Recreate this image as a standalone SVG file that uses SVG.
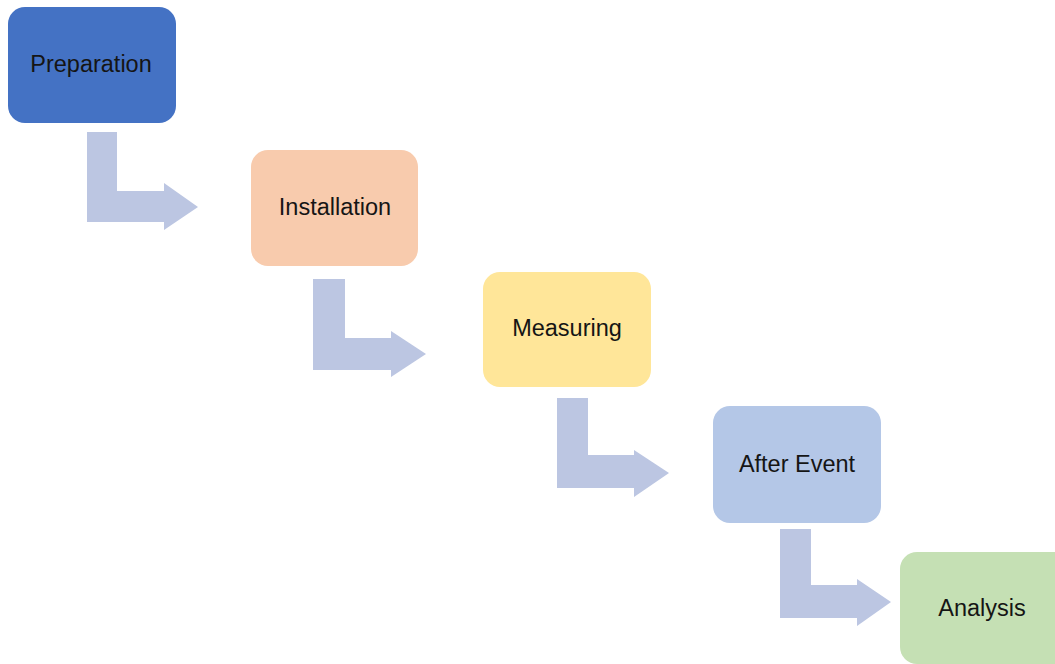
<svg xmlns="http://www.w3.org/2000/svg" width="1055" height="664" viewBox="0 0 1055 664">
<style>
.lbl{font-family:"Liberation Sans",Arial,sans-serif;font-size:23.5px;fill:#151515;text-anchor:middle}
.arr{fill:#BCC6E2}
</style>
<rect width="1055" height="664" fill="#ffffff"/>
<g id="connectors">
<path class="arr" d="M87,132 H117 V191 H164 V183 L198,207 L164,230 V222 H87 Z"/>
<path class="arr" d="M313,279 H345 V338 H391 V331 L426,354 L391,377 V370 H313 Z"/>
<path class="arr" d="M557,398 H588 V455 H634 V450 L669,473 L634,497 V488 H557 Z"/>
<path class="arr" d="M780,529 H811 V585 H857 V579 L891,602 L857,626 V618 H780 Z"/>
</g>
<g id="preparation">
<rect x="8" y="7" width="168" height="116" rx="17" fill="#4472C4"/>
<text class="lbl" x="91" y="72">Preparation</text>
</g>
<g id="installation">
<rect x="251" y="150" width="167" height="116" rx="17" fill="#F8CBAD"/>
<text class="lbl" x="335" y="215">Installation</text>
</g>
<g id="measuring">
<rect x="483" y="272" width="168" height="115" rx="17" fill="#FFE699"/>
<text class="lbl" x="567" y="336">Measuring</text>
</g>
<g id="after-event">
<rect x="713" y="406" width="168" height="117" rx="17" fill="#B4C7E7"/>
<text class="lbl" x="797" y="472">After Event</text>
</g>
<g id="analysis">
<rect x="900" y="552" width="170" height="112" rx="17" fill="#C5E0B4"/>
<text class="lbl" x="982" y="616">Analysis</text>
</g>
</svg>
